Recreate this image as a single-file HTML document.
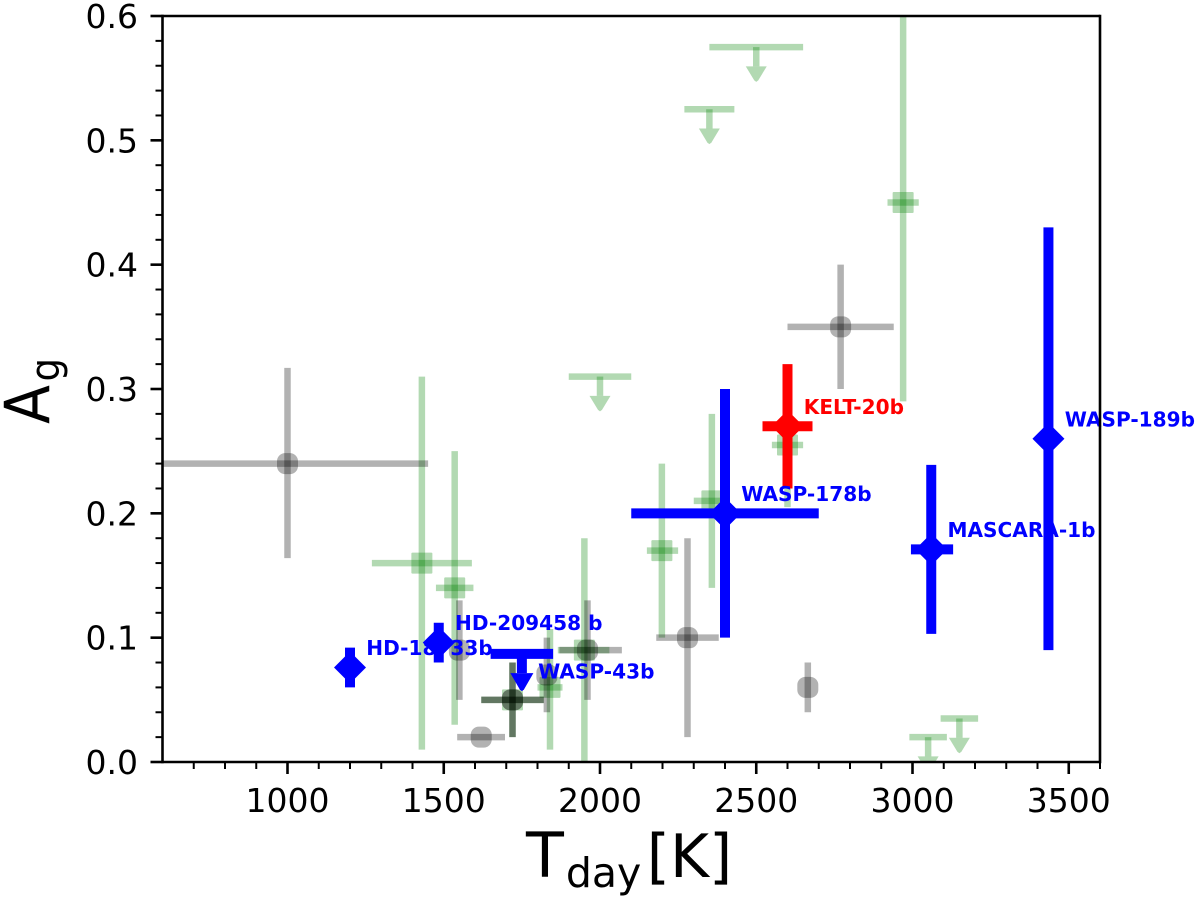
<!DOCTYPE html>
<html lang="en">
<head>
<meta charset="utf-8">
<title>Geometric albedo versus dayside temperature</title>
<style>
html,body{margin:0;padding:0;background:#fff;width:1200px;height:902px;overflow:hidden}
svg{display:block;filter:blur(0.35px)}
text{font-family:"DejaVu Sans","Liberation Sans",sans-serif;fill:#000}
</style>
</head>
<body>
<svg id="chart" xmlns="http://www.w3.org/2000/svg" width="1200" height="902" viewBox="0 0 1200 902">
  <defs><clipPath id="plot-clip"><rect x="162.5" y="16" width="937.5" height="746"></rect></clipPath></defs>
  <rect x="0" y="0" width="1200" height="902" fill="#fff"></rect>
  <g id="marks" clip-path="url(#plot-clip)"></g>
  <g id="labels"></g>
  <g id="axes"></g>
  <text x="526" y="877" font-size="62">T<tspan dx="2" dy="10" font-size="41">day</tspan><tspan dx="5.5" dy="-10" font-size="59.5">[K]</tspan></text>
  <text transform="translate(49,424) rotate(-90) scale(0.92,1)" font-size="62">A<tspan dx="4" dy="10" font-size="40">g</tspan></text>
</svg>
<script>
const xTicks = [1000, 1500, 2000, 2500, 3000, 3500];
const yTicks = [0.0, 0.1, 0.2, 0.3, 0.4, 0.5, 0.6];
const xTickLabels = ['1000', '1500', '2000', '2500', '3000', '3500'];
const yTickLabels = ['0.0', '0.1', '0.2', '0.3', '0.4', '0.5', '0.6'];
const xMinorTicks = [700, 800, 900, 1100, 1200, 1300, 1400, 1600, 1700, 1800, 1900, 2100, 2200, 2300, 2400, 2600, 2700, 2800, 2900, 3100, 3200, 3300, 3400, 3600];
const yMinorTicks = [0.02, 0.04, 0.06, 0.08, 0.12, 0.14, 0.16, 0.18, 0.22, 0.24, 0.26, 0.28, 0.32, 0.34, 0.36, 0.38, 0.42, 0.44, 0.46, 0.48, 0.52, 0.54, 0.56, 0.58];

const greenT = [1430, 1535, 1720, 1840, 1950, 2198, 2358, 2600, 2970];
const greenA = [0.16, 0.14, 0.05, 0.06, 0.09, 0.17, 0.21, 0.255, 0.45];
const greenTLow = [1270, 1475, 1620, 1800, 1865, 2150, 2300, 2550, 2920];
const greenTHigh = [1590, 1595, 1820, 1880, 2030, 2250, 2400, 2650, 3020];
const greenALow = [0.01, 0.03, 0.02, 0.01, 0, 0.10, 0.14, 0.205, 0.29];
const greenAHigh = [0.31, 0.25, 0.08, 0.107, 0.18, 0.24, 0.28, 0.30, 0.65];

const greenLimitT = [2500, 2350, 2000, 3050, 3150];
const greenLimitA = [0.575, 0.525, 0.31, 0.02, 0.035];
const greenLimitTLow = [2350, 2270, 1900, 2990, 3090];
const greenLimitTHigh = [2650, 2430, 2100, 3110, 3210];

const grayT = [1000, 2770, 1550, 1620, 1830, 1960, 2280, 2665];
const grayA = [0.24, 0.35, 0.09, 0.02, 0.07, 0.09, 0.10, 0.06];
const grayTLow = [600, 2600, 1550, 1543, 1830, 1870, 2180, 2665];
const grayTHigh = [1450, 2940, 1550, 1696, 1830, 2070, 2380, 2665];
const grayALow = [0.164, 0.30, 0.05, 0.02, 0.04, 0.05, 0.02, 0.04];
const grayAHigh = [0.317, 0.40, 0.13, 0.02, 0.10, 0.13, 0.18, 0.08];

const darkT = [1720];
const darkA = [0.05];
const darkTLow = [1620];
const darkTHigh = [1820];
const darkALow = [0.02];
const darkAHigh = [0.08];

const blueNames = ['HD-18733b', 'HD-209458 b', 'WASP-178b', 'MASCARA-1b', 'WASP-189b'];
const blueT = [1200, 1484, 2400, 3060, 3435];
const blueA = [0.076, 0.096, 0.20, 0.171, 0.26];
const blueTLow = [1200, 1484, 2100, 2995, 3435];
const blueTHigh = [1200, 1484, 2700, 3130, 3435];
const blueALow = [0.06, 0.08, 0.10, 0.103, 0.09];
const blueAHigh = [0.092, 0.112, 0.30, 0.239, 0.43];

const blueLimitNames = ['WASP-43b'];
const blueLimitT = [1750];
const blueLimitA = [0.087];
const blueLimitTLow = [1650];
const blueLimitTHigh = [1850];

const redNames = ['KELT-20b'];
const redT = [2600];
const redA = [0.27];
const redTLow = [2520];
const redTHigh = [2680];
const redALow = [0.22];
const redAHigh = [0.32];

const NS = 'http://www.w3.org/2000/svg';
const plot = { left: 162.5, right: 1100, top: 16, bottom: 762, xMin: 600, xMax: 3600, yMin: 0, yMax: 0.6 };
function xScale(v) { return plot.left + (v - plot.xMin) / (plot.xMax - plot.xMin) * (plot.right - plot.left); }
function yScale(v) { return plot.bottom - (v - plot.yMin) / (plot.yMax - plot.yMin) * (plot.bottom - plot.top); }

const marks = document.getElementById('marks');
const labels = document.getElementById('labels');
const axes = document.getElementById('axes');

function addLine(parent, name, x1, y1, x2, y2, color, opacity, width) {
  const el = document.createElementNS(NS, 'line');
  
  
  el.setAttribute('x1', x1);
  el.setAttribute('y1', y1);
  el.setAttribute('x2', x2);
  el.setAttribute('y2', y2);
  el.setAttribute('stroke', color);
  el.setAttribute('stroke-opacity', opacity);
  el.setAttribute('stroke-width', width);
  parent.appendChild(el);
}
function addPoly(parent, name, points, color, opacity) {
  const el = document.createElementNS(NS, 'polygon');
  
  
  el.setAttribute('points', points);
  el.setAttribute('fill', color);
  el.setAttribute('fill-opacity', opacity);
  parent.appendChild(el);
}
function addSquare(parent, name, cx, cy, size, corner, color, opacity) {
  const el = document.createElementNS(NS, 'rect');
  
  
  el.setAttribute('x', cx - size / 2);
  el.setAttribute('y', cy - size / 2);
  el.setAttribute('width', size);
  el.setAttribute('height', size);
  el.setAttribute('rx', corner);
  el.setAttribute('fill', color);
  el.setAttribute('fill-opacity', opacity);
  parent.appendChild(el);
}
function addText(parent, name, x, y, str, size, anchor, weight, color) {
  const el = document.createElementNS(NS, 'text');
  
  
  el.setAttribute('x', x);
  el.setAttribute('y', y);
  el.setAttribute('font-size', size);
  el.setAttribute('text-anchor', anchor);
  el.setAttribute('font-weight', weight);
  el.style.fill = color;
  el.textContent = str;
  parent.appendChild(el);
}
function addErrorBars(name, i, T, A, TLow, THigh, ALow, AHigh, color, opacity, width) {
  if (TLow[i] !== THigh[i]) {
    addLine(marks, name + '-x-error', xScale(TLow[i]), yScale(A[i]), xScale(THigh[i]), yScale(A[i]), color, opacity, width);
  }
  if (ALow[i] !== AHigh[i]) {
    addLine(marks, name + '-y-error', xScale(T[i]), yScale(ALow[i]), xScale(T[i]), yScale(AHigh[i]), color, opacity, width);
  }
}
function addLimit(name, i, T, A, TLow, THigh, color, opacity, width, headWidth, headLen, arrowLen) {
  const px = xScale(T[i]);
  const py = yScale(A[i]);
  const tip = yScale(A[i] - arrowLen);
  const headTop = yScale(A[i] - arrowLen + headLen);
  addLine(marks, name + '-bar', xScale(TLow[i]), py, xScale(THigh[i]), py, color, opacity, width);
  addLine(marks, name + '-shaft', px, py, px, headTop, color, opacity, width);
  const pts = [[px - headWidth / 2, headTop], [px + headWidth / 2, headTop], [px + 2, tip - 1.5], [px, tip], [px - 2, tip - 1.5]];
  addPoly(marks, name + '-arrow', pts.map(function (p) { return p.join(','); }).join(' '), color, opacity);
}
function diamondPoints(cx, cy, r) {
  return [[cx, cy - r], [cx + r, cy], [cx, cy + r], [cx - r, cy]].map(function (p) { return p.join(','); }).join(' ');
}

const GREEN = 'rgb(0,128,0)';
const BLACK = 'rgb(0,0,0)';
const BLUE = 'rgb(0,0,255)';
const RED = 'rgb(255,0,0)';

greenT.forEach(function (t, i) {
  addErrorBars('green-point-' + i, i, greenT, greenA, greenTLow, greenTHigh, greenALow, greenAHigh, GREEN, 0.3, 6.5);
  addSquare(marks, 'green-marker-' + i, xScale(t), yScale(greenA[i]), 21, 1, GREEN, 0.3);
});
greenLimitT.forEach(function (t, i) {
  addLimit('green-upper-limit-' + i, i, greenLimitT, greenLimitA, greenLimitTLow, greenLimitTHigh, GREEN, 0.3, 6.5, 21, 0.0125, 0.028);
});
grayT.forEach(function (t, i) {
  addErrorBars('gray-point-' + i, i, grayT, grayA, grayTLow, grayTHigh, grayALow, grayAHigh, BLACK, 0.3, 6.5);
  addSquare(marks, 'gray-marker-' + i, xScale(t), yScale(grayA[i]), 21, 8, BLACK, 0.3);
});
darkT.forEach(function (t, i) {
  addErrorBars('dark-point-' + i, i, darkT, darkA, darkTLow, darkTHigh, darkALow, darkAHigh, BLACK, 0.45, 6.5);
  addSquare(marks, 'dark-marker-' + i, xScale(t), yScale(darkA[i]), 21, 8, BLACK, 0.45);
});

blueT.forEach(function (t, i) {
  addErrorBars('blue-point-' + i, i, blueT, blueA, blueTLow, blueTHigh, blueALow, blueAHigh, BLUE, 1, 10);
  addPoly(marks, 'blue-marker-' + i, diamondPoints(xScale(t), yScale(blueA[i]), 16), BLUE, 1);
  addText(labels, 'planet-label-' + i, xScale(t + 52), yScale(blueA[i] + 0.01), blueNames[i], 20.1, 'start', 'bold', 'rgb(0,0,255)');
});
blueLimitT.forEach(function (t, i) {
  addLimit('blue-upper-limit-' + i, i, blueLimitT, blueLimitA, blueLimitTLow, blueLimitTHigh, BLUE, 1, 10, 23, 0.0145, 0.03);
  addText(labels, 'upper-limit-label-' + i, xScale(t + 52), yScale(blueLimitA[i] - 0.02), blueLimitNames[i], 20.1, 'start', 'bold', 'rgb(0,0,255)');
});
redT.forEach(function (t, i) {
  addErrorBars('red-point-' + i, i, redT, redA, redTLow, redTHigh, redALow, redAHigh, RED, 1, 10);
  addPoly(marks, 'red-marker-' + i, diamondPoints(xScale(t), yScale(redA[i]), 16), RED, 1);
  addText(labels, 'red-label-' + i, xScale(t + 52), yScale(redA[i] + 0.01), redNames[i], 20.1, 'start', 'bold', 'rgb(255,0,0)');
});

xMinorTicks.forEach(function (v, i) {
  addLine(axes, 'x-minor-tick-' + i, xScale(v), plot.bottom, xScale(v), plot.bottom + 7, BLACK, 1, 2);
});
yMinorTicks.forEach(function (v, i) {
  addLine(axes, 'y-minor-tick-' + i, plot.left - 7, yScale(v), plot.left, yScale(v), BLACK, 1, 2);
});
xTicks.forEach(function (v, i) {
  addLine(axes, 'x-major-tick-' + i, xScale(v), plot.bottom, xScale(v), plot.bottom + 12, BLACK, 1, 2.6);
  addText(axes, 'x-tick-label-' + i, xScale(v), 812, xTickLabels[i], 33, 'middle', 'normal', '#000');
});
yTicks.forEach(function (v, i) {
  addLine(axes, 'y-major-tick-' + i, plot.left - 12, yScale(v), plot.left, yScale(v), BLACK, 1, 2.6);
  addText(axes, 'y-tick-label-' + i, 138, yScale(v) + 12, yTickLabels[i], 33, 'end', 'normal', '#000');
});
addLine(axes, 'left-spine', plot.left, plot.top - 1.3, plot.left, plot.bottom + 1.3, BLACK, 1, 2.6);
addLine(axes, 'right-spine', plot.right, plot.top - 1.3, plot.right, plot.bottom + 1.3, BLACK, 1, 2.6);
addLine(axes, 'top-spine', plot.left, plot.top, plot.right, plot.top, BLACK, 1, 2.6);
addLine(axes, 'bottom-spine', plot.left, plot.bottom, plot.right, plot.bottom, BLACK, 1, 2.6);
</script>
</body>
</html>
